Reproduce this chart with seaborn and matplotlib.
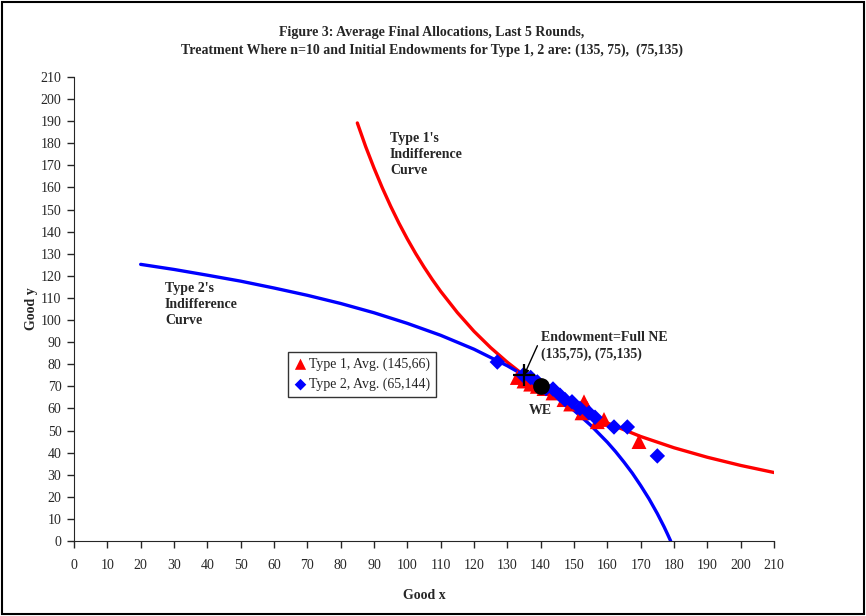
import matplotlib
matplotlib.use("Agg")
import matplotlib.pyplot as plt
import seaborn as sns
from matplotlib.patches import Rectangle

# indifference curves
t1_x = [85, 87.5, 90, 92.5, 95, 97.5, 100, 102.5, 105, 107.5, 110, 115, 120, 125, 130, 135, 140, 145, 150, 160, 170, 180, 190, 200, 210]
t1_y = [189.2, 178.5, 168.8, 159.8, 151.5, 143.8, 136.7, 130.1, 124.0, 118.3, 113.0, 103.4, 94.9, 87.5, 80.9, 75.0, 69.7, 65.0, 60.8, 53.4, 47.3, 42.2, 37.9, 34.2, 31.0]

t2_x = [20, 30, 40, 50, 60, 70, 80, 90, 100, 110, 120, 130, 135, 140, 145, 150, 155, 160, 162.5, 165, 167.5, 170, 172.5, 175, 177, 178, 179]
t2_y = [125.2, 122.9, 120.3, 117.6, 114.5, 111.2, 107.5, 103.3, 98.5, 93.1, 86.8, 79.3, 75.0, 70.3, 65.0, 59.1, 52.4, 44.7, 40.4, 35.7, 30.7, 25.1, 19.1, 12.4, 6.5, 3.3, 0.0]

# average final allocations
type1_x = [133, 135, 137, 139, 141, 143.7, 147, 149, 152.4, 153, 154, 157, 159, 169.5]
type1_y = [74, 72.4, 71, 70, 69, 67, 64, 62, 58, 63, 60, 54, 55, 45]
type2_x = [127, 134.7, 137, 139, 141.6, 143.7, 145.8, 147.3, 149.4, 151.8, 154.5, 156.3, 162, 166, 175]
type2_y = [81, 75, 74, 72, 69, 68.8, 66, 64, 63, 60, 58, 56, 51.6, 51.6, 38.5]

lab1 = "Type 1, Avg. (145,66)"
lab2 = "Type 2, Avg. (65,144)"

endow = (135, 75)
we = (140, 70)

sns.set_style("ticks")
plt.rcParams['font.family'] = ['Liberation Serif', 'DejaVu Serif']

fig = plt.figure(figsize=(8.66, 6.16), dpi=100)
ax = fig.add_axes([74 / 866, 1 - 541 / 616, 700 / 866, 464 / 616])

sns.lineplot(x=t1_x, y=t1_y, sort=False, color="#FF0000", lw=2.4, ax=ax)
sns.lineplot(x=t2_x, y=t2_y, sort=False, color="#0000FF", lw=2.4, ax=ax)

sns.scatterplot(x=type1_x, y=type1_y, color="#FF0000", marker="^", s=115,
                edgecolor="none", label=lab1, ax=ax, zorder=3)
sns.scatterplot(x=type2_x, y=type2_y, color="#0000FF", marker="D", s=62,
                edgecolor="none", label=lab2, ax=ax, zorder=3)

ax.plot(*we, "o", color="black", ms=11, zorder=4)
ax.plot(*endow, "+", color="black", ms=16, mew=1.6, zorder=5)

ax.set_xlim(0, 210)
ax.set_ylim(0, 210)
ax.set_xticks(range(0, 211, 10))
ax.set_yticks(range(0, 211, 10))
ax.tick_params(labelsize=10, length=5, width=1, direction="out")
ax.tick_params(axis="x", pad=8)
ax.tick_params(axis="y", pad=4)
sns.despine(ax=ax)
ax.set_xlabel("Good x", fontsize=10, fontweight="bold", labelpad=12)
ax.set_ylabel("Good y", fontsize=10, fontweight="bold", labelpad=2)

fig.suptitle("Figure 3: Average Final Allocations, Last 5 Rounds,\n"
             "Treatment Where n=10 and Initial Endowments for Type 1, 2 are: (135, 75),  (75,135)",
             x=432 / 866, y=1 - 26 / 616, fontsize=10, fontweight="bold", linespacing=1.4)

ax.text(94.8, 185, "Type 1's\nIndifference\nCurve", fontsize=10, fontweight="bold",
        va="top", linespacing=1.3)
ax.text(27.3, 117, "Type 2's\nIndifference\nCurve", fontsize=10, fontweight="bold",
        va="top", linespacing=1.3)
ax.annotate("Endowment=Full NE\n(135,75), (75,135)", xy=endow, xytext=(140, 95),
            fontsize=10, fontweight="bold", va="top", linespacing=1.3,
            arrowprops=dict(arrowstyle="-|>", color="black", lw=1, shrinkA=0, shrinkB=0,
                            mutation_scale=8, relpos=(0, 0.75)))
ax.text(136.3, 59, "WE", fontsize=10, fontweight="bold", va="center")

leg = ax.legend(loc="upper left", bbox_to_anchor=(288 / 866, 1 - 352 / 616),
                bbox_transform=fig.transFigure, borderaxespad=0, fontsize=10,
                frameon=True, fancybox=False, handletextpad=0.1, handlelength=1,
                borderpad=0.4, labelspacing=0.5, markerscale=0.75)
leg.get_frame().set_edgecolor("black")
leg.get_frame().set_linewidth(1)

fig.add_artist(Rectangle((0.002, 0.003), 0.996, 0.994, transform=fig.transFigure,
                         fill=False, lw=1.5, edgecolor="black"))

fig.savefig("out.png", dpi=100)
